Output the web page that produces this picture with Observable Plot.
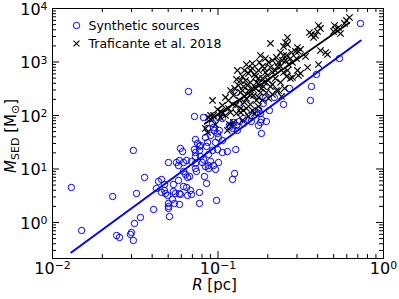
<!DOCTYPE html>
<html><head><meta charset="utf-8">
<script src="https://cdn.jsdelivr.net/npm/d3@7"></script>
<script src="https://cdn.jsdelivr.net/npm/@observablehq/plot@0.6"></script>
<style>
html,body{margin:0;padding:0;background:#fff;}
#chart svg{display:block;}
</style>
</head><body><div id="chart"></div>
<script>
// Synthetic sources: radius R [pc] and mass M_SED [Msun]
const synthR = [
0.0130,0.0150,0.0231,0.0244,0.0254,0.0296,0.0300,0.0308,0.0313,0.0322,0.0340,0.0360,0.0308,
0.0408,0.0425,0.0437,0.0456,0.0456,0.0475,0.0482,0.0496,0.0475,0.0502,0.0538,0.0577,0.0538,0.0553,0.0585,0.0531,0.0546,0.0585,0.0593,0.0502,0.0502,0.0502,0.0509,
0.0561,0.0577,0.0619,0.0619,0.0637,0.0655,0.0673,0.0619,0.0646,0.0655,0.0682,0.0692,0.0692,0.0731,0.0741,0.0773,0.0773,0.0731,
0.0593,0.0611,0.0721,0.0731,0.0773,0.0773,0.0731,0.0752,0.0731,0.0585,0.0646,0.0784,
0.0805,0.0840,0.0877,0.0902,0.0940,0.0877,0.0966,0.1007,0.0828,0.0853,0.0980,0.1225,0.126,
0.0817,0.0877,0.0927,0.0994,0.1064,0.114,0.128,0.0865,0.0966,0.1064,0.1007,0.0784,0.0853,
0.0817,0.0902,0.0927,0.0940,0.0953,0.0994,0.102,0.1007,0.1064,0.1173,0.1225,0.131,0.124,0.1294,0.119,0.135,0.1426,0.1426,
0.157,0.159,0.171,0.1758,0.1758,0.1807,0.183,0.183,0.196,0.0865,0.0840,0.0902,0.0721,0.0664,
0.1294,0.133,0.1807,0.188,0.1936,0.2046,0.219,0.2488,0.2704,0.362,0.367,0.3936,0.542,0.726
];
const synthM = [
4.51,0.708,3.06,0.571,0.525,0.597,0.650,0.461,0.958,3.48,1.24,6.94,22.2,
1.75,4.32,5.84,6.37,3.64,3.96,3.48,3.20,5.13,13.2,5.13,6.10,3.80,3.48,3.48,2.69,2.27,2.17,3.34,2.27,1.99,1.83,1.29,
13.2,11.6,13.2,8.98,7.89,6.94,7.24,4.71,4.51,3.20,3.96,3.34,13.8,10.2,8.98,3.64,2.27,12.7,
24.2,21.2,23.1,20.3,26.4,22.2,35.6,30.0,17.1,14.4,14.4,17.1,
13.2,11.1,11.6,13.8,11.6,10.2,9.79,13.2,7.24,5.36,2.58,6.37,8.24,
15.1,18.7,22.2,23.1,20.3,21.2,23.1,31.3,31.3,34.1,38.8,27.5,26.4,
91.8,87.9,70.9,59.7,52.5,46.1,52.5,91.8,87.9,65.0,57.2,52.5,74.0,65.0,62.3,77.3,87.9,70.9,
100,77.3,114,129,65.0,74.0,84.2,46.1,77.3,57.2,38.8,42.3,95.8,281,
269,168,109,168,217,124,217,161,320,191,348,584,1162,5250
];
// Traficante et al. 2018
const trafR = [
0.623,0.597,0.581,0.535,0.506,0.513,0.499,0.550,0.405,0.416,0.399,0.388,0.378,0.357,0.367,
0.263,0.256,0.263,0.249,0.2075,0.302,0.315,0.306,0.294,0.416,0.447,0.459,0.3475,0.405,
0.302,0.315,0.306,0.274,0.282,0.249,0.263,
0.2386,0.249,0.2257,0.2133,0.232,0.256,0.274,0.2018,0.1936,0.1807,0.1614,0.1857,0.2075,0.222,0.2386,0.2667,
0.1936,0.1758,0.1614,0.1528,0.1686,0.1857,0.2018,0.222,0.2386,0.2075,0.188,0.1758,0.157,0.1466,0.1426,
0.1528,0.1686,0.1807,0.196,0.2133,0.232,0.2523,0.157,0.1445,0.137,0.133,0.1294,0.1445,0.157,0.171,0.1857,
0.137,0.1486,0.1614,0.1758,0.124,0.119,0.1157,0.128,0.111,0.1064,0.1445,0.137,0.1758,0.2818,0.2979,0.338,0.2594,0.242,0.2018,
0.0927,0.0994,0.1035,0.0840,0.0865,0.114,0.1173,0.124,0.1406,0.137,0.1426,0.119,0.0902,0.0940,0.0877,0.1064,0.111,0.1035,0.1294,0.1528,0.1663,0.0966,
0.1486,0.157,0.1663,0.178,0.191,0.199,0.2133,0.229,0.245,0.2594,0.278,0.1406,0.1507,0.1614,0.171,0.183,0.191,0.164,0.1758,0.1486,
0.135,0.126,0.1406,0.131,0.2133,0.2257,0.1157,0.1225
];
const trafM = [
6790,5970,5250,4415,4810,4050,3715,3410,4810,4230,3715,3130,2870,3560,3267,
2870,2315,2125,1950,2218,1866,1713,1572,1572,1640,1505,1381,789,898,
694,610,559,492,513,637,694,
1505,1322,1213,1067,979,1067,1162,979,1162,1322,937,824,789,694,824,898,
637,694,756,610,536,492,451,492,414,348,348,396,414,451,348,
293,320,269,269,247,293,320,237,227,269,364,471,175,161,191,191,
135,135,124,147,237,293,191,154,217,154,694,451,492,979,1162,1267,536,227,208,
191,129,119,57.2,48.1,52.5,67.9,74.0,80.7,114,124,114,100,100,91.8,109,100,91.8,109,95.8,109,67.9,
898,694,584,979,756,559,637,824,1067,1322,1505,293,364,320,414,320,414,237,217,208,
191,320,536,694,380,293,135,161
];
// power-law fits (end points)
const synthFitR = [0.01297, 0.729];
const synthFitM = [0.275, 2520];
const trafFitR = [0.0832, 0.623];
const trafFitM = [70.0, 5400];
const seriesNames = ["Synthetic sources", "Traficante et al. 2018"];
// ticks
const xMajor = [0.01, 0.1, 1];
const xTickLabels = ["10^-2", "10^-1", "10^0"];
const xMinor = [0.02,0.03,0.04,0.05,0.06,0.07,0.08,0.09,0.2,0.3,0.4,0.5,0.6,0.7,0.8,0.9];
const yMajor = [1, 10, 100, 1000, 10000];
const yTickLabels = ["10^0", "10^1", "10^2", "10^3", "10^4"];
const yMinor = [0.3,0.4,0.5,0.6,0.7,0.8,0.9,2,3,4,5,6,7,8,9,20,30,40,50,60,70,80,90,200,300,400,500,600,700,800,900,2000,3000,4000,5000,6000,7000,8000,9000];

const synth = synthR.map((r, i) => ({R: r, M: synthM[i]}));
const traf = trafR.map((r, i) => ({R: r, M: trafM[i]}));
const synthFit = synthFitR.map((r, i) => ({R: r, M: synthFitM[i]}));
const trafFit = trafFitR.map((r, i) => ({R: r, M: trafFitM[i]}));

const W = 399, H = 299, mL = 52, mR = 16, mT = 8, mB = 41;
const pw = W - mL - mR, ph = H - mT - mB;
const maj = 7, mnr = 4;

const svg = Plot.plot({
  width: W, height: H,
  marginLeft: mL, marginRight: mR, marginTop: mT, marginBottom: mB,
  style: {fontFamily: "DejaVu Sans", background: "white", color: "black"},
  x: {type: "log", domain: [0.01, 1]},
  y: {type: "log", domain: [0.212, 10000]},
  marks: [
    Plot.dot(synth, {x: "R", y: "M", r: 3.2, symbol: "circle", stroke: "blue", fill: "none", strokeWidth: 1}),
    Plot.dot(traf, {x: "R", y: "M", r: 3.0, symbol: "times", stroke: "black", strokeWidth: 1.2}),
    Plot.line(synthFit, {x: "R", y: "M", stroke: "blue", strokeWidth: 2}),
    Plot.line(trafFit, {x: "R", y: "M", stroke: "black", strokeWidth: 1.8}),
    // inward ticks on four sides
    Plot.tickX(xMajor, {x: d => d, insetTop: ph - maj, stroke: "black"}),
    Plot.tickX(xMajor, {x: d => d, insetBottom: ph - maj, stroke: "black"}),
    Plot.tickX(xMinor, {x: d => d, insetTop: ph - mnr, stroke: "black"}),
    Plot.tickX(xMinor, {x: d => d, insetBottom: ph - mnr, stroke: "black"}),
    Plot.tickY(yMajor, {y: d => d, insetRight: pw - maj, stroke: "black"}),
    Plot.tickY(yMajor, {y: d => d, insetLeft: pw - maj, stroke: "black"}),
    Plot.tickY(yMinor, {y: d => d, insetRight: pw - mnr, stroke: "black"}),
    Plot.tickY(yMinor, {y: d => d, insetLeft: pw - mnr, stroke: "black"}),
    Plot.axisX(xMajor, {tickSize: 0, tickPadding: 4, fontSize: 16, label: null,
      tickFormat: d => xTickLabels[xMajor.indexOf(d)]}),
    Plot.axisY(yMajor, {tickSize: 0, tickPadding: 5, fontSize: 16, label: null, dy: 1,
      tickFormat: d => yTickLabels[yMajor.indexOf(d)]}),
    Plot.frame({stroke: "black", strokeWidth: 1}),
    // legend
    Plot.dot([seriesNames[0]], {frameAnchor: "top-left", dx: 24, dy: 17, r: 3.2, symbol: "circle", stroke: "blue", fill: "none", strokeWidth: 1}),
    Plot.dot([seriesNames[1]], {frameAnchor: "top-left", dx: 24, dy: 35, r: 2.8, symbol: "times", stroke: "black", strokeWidth: 1.1}),
    Plot.text([seriesNames[0]], {text: d => d, frameAnchor: "top-left", dx: 36, dy: 17, textAnchor: "start", lineAnchor: "middle", fontSize: 12.5, fill: "black"}),
    Plot.text([seriesNames[1]], {text: d => d, frameAnchor: "top-left", dx: 36, dy: 35, textAnchor: "start", lineAnchor: "middle", fontSize: 12.5, fill: "black"})
  ]
});

const s = d3.select(svg);
// superscripts in tick labels
s.selectAll("g[aria-label='x-axis tick label'] text, g[aria-label='y-axis tick label'] text").each(function() {
  const t = d3.select(this);
  const str = t.text();
  const parts = str.split("^");
  t.text(null);
  t.append("tspan").text(parts[0]);
  t.append("tspan").attr("dy", "-0.42em").attr("font-size", "0.68em").text(parts[1].replace("-", "\u2212"));
});

// axis titles
const xl = s.append("text").attr("x", mL + pw / 2 - 3).attr("y", 290)
  .attr("text-anchor", "middle").attr("font-size", 15).attr("font-family", "DejaVu Sans").attr("fill", "black");
xl.append("tspan").attr("font-style", "italic").text("R");
xl.append("tspan").text(" [pc]");

const yl = s.append("text").attr("transform", `translate(16,${mT + ph / 2 + 3}) rotate(-90)`)
  .attr("text-anchor", "middle").attr("font-size", 15).attr("font-family", "DejaVu Sans").attr("fill", "black");
yl.append("tspan").attr("font-style", "italic").text("M");
yl.append("tspan").attr("font-size", 11).attr("dy", 3).text("SED");
yl.append("tspan").attr("dy", -3).text(" [M");
yl.append("tspan").attr("font-size", 11).attr("dy", 3).text("\u2299");
yl.append("tspan").attr("dy", -3).text("]");

document.getElementById("chart").appendChild(svg);
</script>
</body></html>
